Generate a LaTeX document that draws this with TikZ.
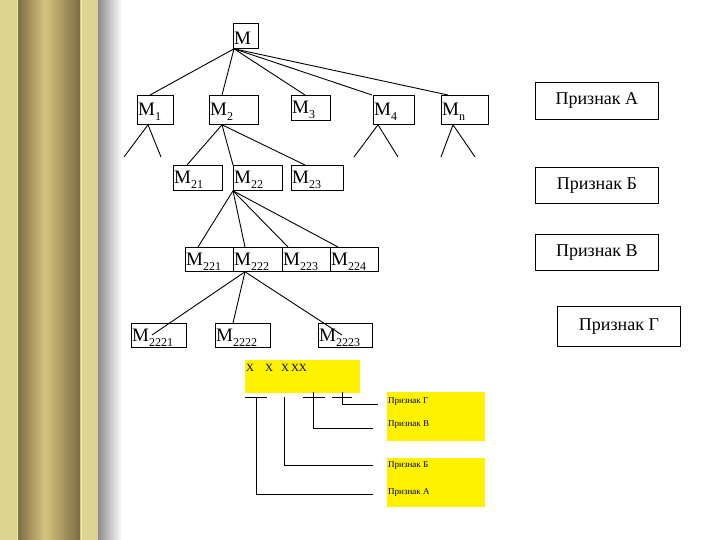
\documentclass[tikz,border=0pt]{standalone}
\usepackage{fontspec}
\setmainfont{Liberation Serif}
\newcommand\sbs[1]{\raisebox{-5pt}{\fontsize{12}{12}\selectfont #1}}
\newcommand\bx[6]{\node[draw, line width=0.8pt, inner sep=0pt, minimum width={(#4-#2)*1pt}, minimum height={(#5-#3)*1pt}, anchor=north west] (#1) at (#2,#3) {};
 \node[anchor=west, inner sep=1pt, yshift=-2pt, font=\fontsize{19}{20}\selectfont] (#1t) at (#1.west) {#6};}
\newcommand\pb[6]{\node[draw, line width=0.8pt, inner sep=0pt, minimum width={(#4-#2)*1pt}, minimum height={(#5-#3)*1pt}, anchor=north west] (#1) at (#2,#3) {};
 \node[inner sep=0pt, font=\fontsize{18}{20}\selectfont] (#1t) at (#1.center) {#6};}
\begin{document}
\begin{tikzpicture}[x=1pt,y=-1pt, ln/.style={line width=0.9pt}, sl/.style={line width=0.7pt},
 small/.style={anchor=west, inner sep=0pt, font=\fontsize{9}{10}\selectfont}]
\useasboundingbox (0,0) rectangle (720,540);
\fill[white] (0,0) rectangle (720,540);
% left pillar
\fill[left color=black!45, right color=white] (98,0) rectangle (122,540);
\fill[color={rgb,255:red,222;green,212;blue,145}] (0,0) rectangle (98,540);
\fill[left color={rgb,255:red,125;green,112;blue,70}, right color={rgb,255:red,215;green,195;blue,125}] (18,0) rectangle (45,540);
\fill[left color={rgb,255:red,215;green,195;blue,125}, right color={rgb,255:red,120;green,108;blue,68}] (45,0) rectangle (80,540);
\draw[color={rgb,255:red,240;green,232;blue,170}, line width=0.5pt] (17,0) -- (17,540) (81,0) -- (81,540);
% tree
\bx{M}{233}{23}{258}{48}{M}
\bx{M1}{137}{95}{173}{124}{M\sbs{1}}
\bx{M2}{209}{95}{258}{124}{M\sbs{2}}
\bx{M3}{291}{95}{330}{120}{M\sbs{3}}
\bx{M4}{373}{95}{414}{124}{M\sbs{4}}
\bx{Mn}{441}{95}{488}{124}{M\sbs{n}}
\bx{M21}{173}{165}{222}{190}{M\sbs{21}}
\bx{M22}{233}{165}{282}{190}{M\sbs{22}}
\bx{M23}{291}{165}{343}{190}{M\sbs{23}}
\bx{M221}{185}{247}{233}{271}{M\sbs{221}}
\bx{M222}{233}{247}{282}{271}{M\sbs{222}}
\bx{M223}{282}{247}{330}{271}{M\sbs{223}}
\bx{M224}{330}{247}{378}{271}{M\sbs{224}}
\bx{M2221}{131}{323}{186}{347}{M\sbs{2221}}
\bx{M2222}{215}{323}{270}{347}{M\sbs{2222}}
\bx{M2223}{318}{323}{372}{347}{M\sbs{2223}}
\draw[ln] ([xshift=1pt]M.south west) -- ([xshift=13pt]M1.north west);
\draw[ln] ([xshift=1pt]M.south west) -- ([xshift=13pt]M2.north west);
\draw[ln] ([xshift=1pt]M.south west) -- ([xshift=14pt]M3.north west);
\draw[ln] ([xshift=1pt]M.south west) -- ([xshift=-1pt]M4.north west);
\draw[ln] ([xshift=1pt]M.south west) -- ([xshift=7pt]Mn.north west);
\coordinate (l1) at (124,157); \coordinate (r1) at (161,157);
\coordinate (l4) at (354,157); \coordinate (r4) at (398,157);
\coordinate (ln) at (441,157); \coordinate (rn) at (475,157);
\draw[ln] (l1) -- ([xshift=11pt]M1.south west) -- (r1);
\draw[ln] (l4) -- ([xshift=5pt]M4.south west) -- (r4);
\draw[ln] (ln) -- ([xshift=12pt]Mn.south west) -- (rn);
\draw[ln] ([xshift=13pt]M2.south west) -- ([xshift=14pt]M21.north west);
\draw[ln] ([xshift=13pt]M2.south west) -- (M22.north west);
\draw[ln] ([xshift=13pt]M2.south west) -- ([xshift=14pt]M23.north west);
\foreach \t/\s in {M221/13, M222/12, M223/6, M224/8}
  \draw[ln] (M22.south west) -- ([xshift=\s pt]\t.north west);
\draw[ln] ([xshift=12pt]M222.south west) -- ([xshift=21pt,yshift=-12pt]M2221.north west);
\draw[ln] ([xshift=12pt]M222.south west) -- ([xshift=18pt]M2222.north west);
\draw[ln] ([xshift=12pt]M222.south west) -- ([xshift=24pt,yshift=-12pt]M2223.north west);
% features
\pb{PA}{535}{82}{658}{119}{Признак А}
\pb{PB}{535}{167}{658}{203}{Признак Б}
\pb{PV}{535}{234}{658}{270}{Признак В}
\pb{PG}{557}{306}{680}{346}{Признак Г}
% bottom code
\fill[yellow] (245,360) rectangle (360,393);
\node[yellow, fill=yellow, inner sep=0pt, minimum width=98pt, minimum height=49pt, anchor=north west] (Y1) at (387,392) {};
\node[yellow, fill=yellow, inner sep=0pt, minimum width=98pt, minimum height=49pt, anchor=north west] (Y2) at (387,458) {};
\node[anchor=west, inner sep=0pt, font=\fontsize{11}{12}\selectfont] (code) at (246,368) {X\hspace{11pt}X\hspace{8pt}X\hspace{2pt}XX};
\draw[sl] (245,397) -- (267,397) (303,397) -- (325,397) (332,397) -- (352,397);
\draw[sl] (313,392) -- (313,428) -- (373,428);
\draw[sl] (342,392) -- (342,404) -- (378,404);
\draw[sl] (284,397) -- (284,465) -- (373,465);
\draw[sl] (256,397) -- (256,494) -- (373,494);
\node[small] (tG) at (388,402) {Признак Г};
\node[small] (tV) at (388,425) {Признак В};
\node[small] (tB) at (388,466) {Признак Б};
\node[small] (tA) at (388,492) {Признак А};
\end{tikzpicture}
\end{document}
